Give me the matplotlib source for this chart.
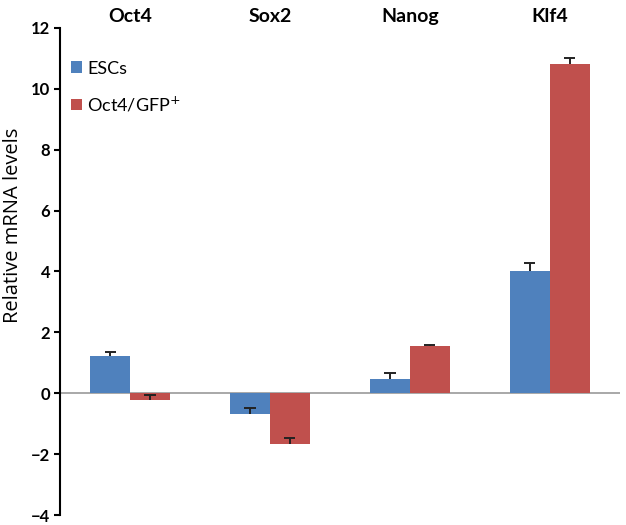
import numpy as np
import matplotlib
matplotlib.use('Agg')
import matplotlib.pyplot as plt

# data
genes = ['Oct4', 'Sox2', 'Nanog', 'Klf4']
esc_values = [1.22, -0.69, 0.46, 4.0]
esc_errors = [0.13, 0.22, 0.19, 0.28]
gfp_values = [-0.23, -1.68, 1.55, 10.8]
gfp_errors = [0.18, 0.2, 0.04, 0.2]
series_labels = ['ESCs', 'Oct4/GFP$^{+}$']
y_ticks = [-4, -2, 0, 2, 4, 6, 8, 10, 12]

blue = '#4F81BD'
red = '#C0504D'

plt.rcParams['font.family'] = ['Lato', 'DejaVu Sans']

fig = plt.figure(figsize=(6.26, 5.25), dpi=100)
ax = fig.add_axes([0.096, 0.019, 0.894, 0.928])

x = np.arange(len(genes))
width = 0.285
cap = 0.04

ax.axhline(0, color='#9a9a9a', lw=1.2, zorder=1)

for offset, vals, errs, color, label in [
    (-width / 2, esc_values, esc_errors, blue, series_labels[0]),
    (width / 2, gfp_values, gfp_errors, red, series_labels[1]),
]:
    xs = x + offset
    vals = np.array(vals)
    errs = np.array(errs)
    ax.bar(xs, vals, width=width, color=color, label=label, zorder=2)
    # error bars only in the "plus" direction, as in Excel
    ax.vlines(xs, vals, vals + errs, color='#222222', lw=1.4, zorder=3)
    ax.hlines(vals + errs, xs - cap, xs + cap, color='#222222', lw=1.4,
              zorder=3)

ax.set_xlim(-0.5, 3.5)
ax.set_ylim(-4, 12)
ax.set_yticks(y_ticks)
ax.set_yticklabels(['\u22124', '\u22122', '0', '2', '4', '6', '8', '10', '12'],
                   fontsize=12, fontweight='bold')
ax.set_xticks([])

for side in ['top', 'right', 'bottom']:
    ax.spines[side].set_visible(False)
ax.spines['left'].set_linewidth(1.5)
ax.tick_params(axis='y', length=4, width=1.5, direction='out', pad=3)

ax.set_ylabel('Relative mRNA levels', fontsize=14.5, family='Open Sans')
ax.yaxis.set_label_coords(-0.066, 0.595)

for xi, g in zip(x, genes):
    ax.text(xi, 1.005, g, transform=ax.get_xaxis_transform(), ha='center',
            va='bottom', fontsize=14, fontweight='bold')

ax.legend(loc='upper left', bbox_to_anchor=(0.0, 0.955), frameon=False,
          fontsize=13, handlelength=0.6, handleheight=0.6, handletextpad=0.3,
          labelspacing=1.0, borderaxespad=0.2)

fig.savefig('out.png', dpi=100)
